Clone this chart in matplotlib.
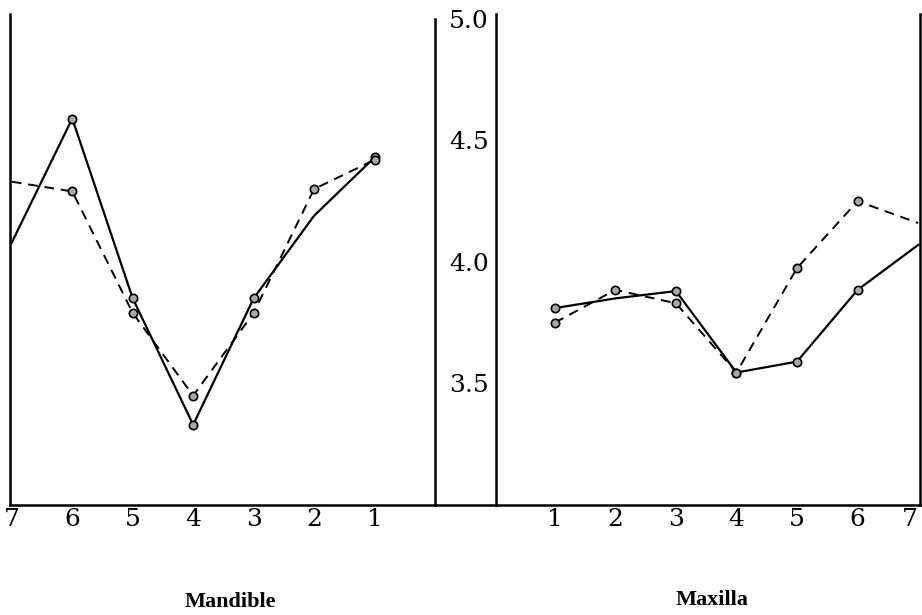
import matplotlib
matplotlib.use("Agg")
from matplotlib import pyplot as plt
from matplotlib.lines import Line2D

# tooth positions
mand_teeth = [7, 6, 5, 4, 3, 2, 1]
max_teeth = [1, 2, 3, 4, 5, 6, 7]

# mandible values
mand_solid = [4.08, 4.59, 3.85, 3.33, 3.85, 4.19, 4.43]
mand_dashed = [4.33, 4.29, 3.79, 3.45, 3.79, 4.30, 4.42]
mand_solid_marks = [1, 2, 3, 4, 6]
mand_dashed_marks = [1, 2, 3, 4, 5, 6]

# maxilla values
max_solid = [3.81, 3.85, 3.88, 3.545, 3.59, 3.885, 4.07]
max_dashed = [3.75, 3.885, 3.83, 3.545, 3.975, 4.25, 4.16]
max_solid_marks = [0, 2, 3, 4, 5]
max_dashed_marks = [0, 1, 2, 3, 4, 5]

y_ticks = [3.5, 4.0, 4.5, 5.0]
y_labels = ["3.5", "4.0", "4.5", "5.0"]

W, H = 922, 615
fig = plt.figure(figsize=(W / 100, H / 100), dpi=100)
fig.patch.set_facecolor("white")

bottom = (H - 505) / H
height = 491 / H
ax_l = fig.add_axes([10 / W, bottom, 425 / W, height])
ax_r = fig.add_axes([496 / W, bottom, 424 / W, height])

tick_font = dict(family="DejaVu Serif", size=18)
mk = dict(marker="o", ms=6, mfc="#a8a8a8", mec="black", mew=1.2)

# left: mandible
ax_l.plot(mand_teeth, mand_solid, color="black", lw=1.6, markevery=mand_solid_marks, **mk)
ax_l.plot(mand_teeth, mand_dashed, color="black", lw=1.4, ls=(0, (5, 3.5)),
          markevery=mand_dashed_marks, **mk)
ax_l.set_xlim(7.03, 0.0)
ax_l.set_ylim(3.0, 5.02)
ax_l.spines["top"].set_visible(False)
ax_l.spines["right"].set_bounds(3.0, 5.0)
ax_l.yaxis.tick_right()
ax_l.set_yticks(y_ticks)
ax_l.set_yticklabels(y_labels, **tick_font)
ax_l.set_xticks(mand_teeth)
ax_l.set_xticklabels([str(t) for t in mand_teeth], **tick_font)
ax_l.tick_params(axis="y", length=0, pad=10)
ax_l.tick_params(axis="x", length=0, pad=2)

# right: maxilla
ax_r.plot(max_teeth, max_solid, color="black", lw=1.6, markevery=max_solid_marks, **mk)
ax_r.plot(max_teeth, max_dashed, color="black", lw=1.4, ls=(0, (5, 3.5)),
          markevery=max_dashed_marks, **mk)
ax_r.set_xlim(0.03, 7.03)
ax_r.set_ylim(3.0, 5.02)
ax_r.spines["top"].set_visible(False)
ax_r.set_yticks([])
ax_r.set_xticks(max_teeth)
ax_r.set_xticklabels([str(t) for t in max_teeth], **tick_font)
ax_r.tick_params(axis="x", length=0, pad=2)
# last label sits against the figure edge
ax_r.get_xticklabels()[-1].set_horizontalalignment("right")
ax_r.get_xticklabels()[-1].set_x(7.1)

for ax in (ax_l, ax_r):
    for s in ax.spines.values():
        s.set_linewidth(1.8)

# baseline joining the two panels
fig.add_artist(Line2D([435 / W, 496 / W], [bottom, bottom], color="black", lw=1.8,
                      transform=fig.transFigure))

fig.text(230 / W, 1 - 602 / H, "Mandible", ha="center", va="center",
         family="Liberation Serif", size=16, weight="bold")
fig.text(712 / W, 1 - 600 / H, "Maxilla", ha="center", va="center",
         family="Liberation Serif", size=16, weight="bold")

fig.savefig("out.png", dpi=100, facecolor="white")
